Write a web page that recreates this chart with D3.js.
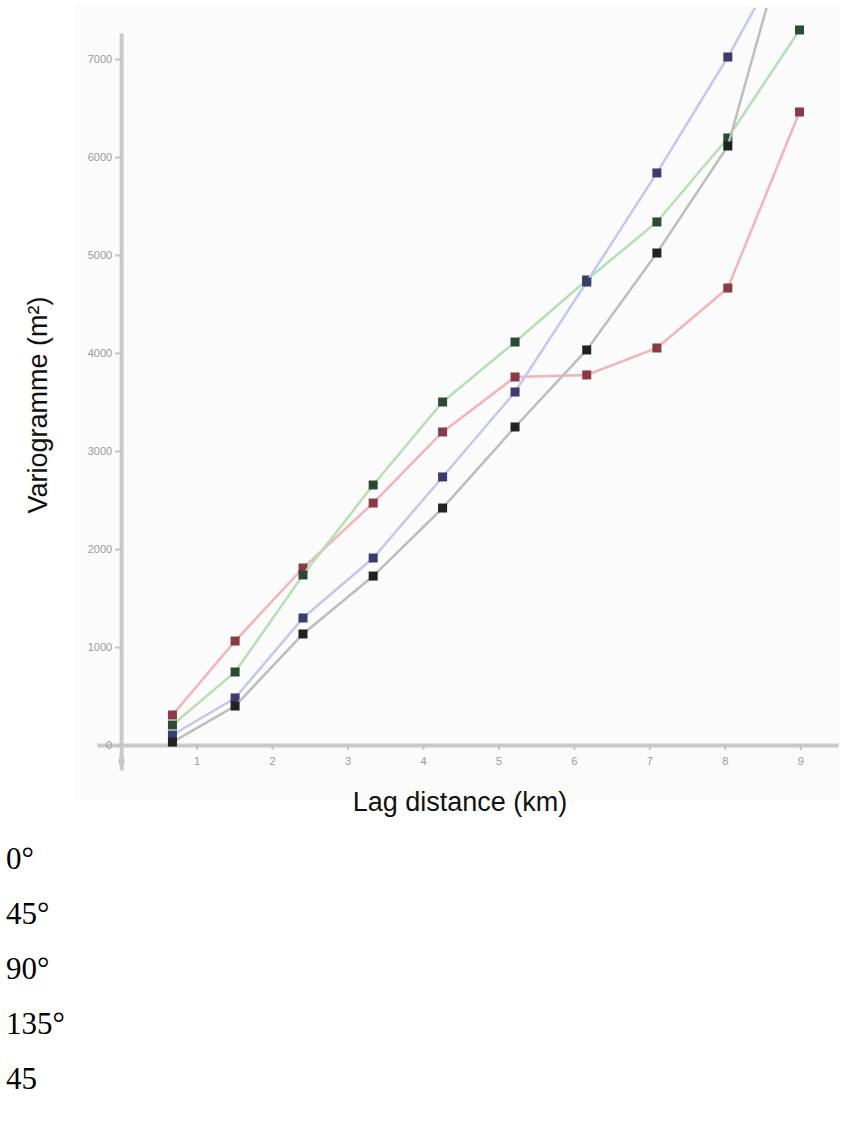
<!DOCTYPE html>
<html>
<head>
<meta charset="utf-8">
<script src="https://cdn.jsdelivr.net/npm/d3@7"></script>
<style>
	body { margin: 0; background: #ffffff; }
	#variogram text { font-family: "Liberation Sans", Arial, sans-serif; }
</style>
</head>
<body>
<div id="variogram"></div>
<script>
// data
var lags = [0.68, 1.51, 2.41, 3.34, 4.26, 5.22, 6.17, 7.10, 8.04, 8.99];
var gamma0   = [306, 1061, 1806, 2469, 3194, 3755, 3776, 4051, 4663, 6459];
var gamma45  = [204, 745, 1735, 2653, 3500, 4112, 4745, 5337, 6194, 7296];
var gamma90  = [102, 480, 1296, 1908, 2735, 3602, 4724, 5837, 7020, 8347];
var gamma135 = [30, 398, 1133, 1724, 2418, 3245, 4031, 5020, 6112, 8724];
var seriesNames = ["0°", "45°", "90°", "135°"];
var xTicks = [0, 1, 2, 3, 4, 5, 6, 7, 8, 9];
var yTicks = [0, 1000, 2000, 3000, 4000, 5000, 6000, 7000];
var legendLabels = ["0°", "45°", "90°", "135°", "45"];

// colours: light line, dark marker
var lineColors   = ["#f2b4b8", "#b6dfb6", "#c6c6f2", "#bdbdbd"];
var markerColors = ["#8a3a48", "#2c4a34", "#3c3c6e", "#222222"];

document.getElementById("variogram").innerHTML = "";

var svg = d3.select("#variogram").append("svg")
		.attr("width", 853)
		.attr("height", 1126);

// faint panel behind the chart
svg.append("rect")
	.attr("x", 75).attr("y", 5)
	.attr("width", 765).attr("height", 795)
	.attr("fill", "#fbfbfb");

// scales
var x = d3.scaleLinear()
	.domain([-0.32, 9.5])
	.range([97, 838]);

var y = d3.scaleLinear()
	.domain([-255, 7265])
	.range([770, 33]);

// x axis
var xAxisCall = d3.axisBottom(x)
	.tickValues(xTicks)
	.tickSize(5)
	.tickSizeOuter(0)
	.tickFormat(d3.format("d"));
var xAxis = svg.append("g")
	.attr("class", "x-axis")
	.attr("transform", "translate(0," + y(0) + ")")
	.call(xAxisCall);

// y axis
var yAxisCall = d3.axisLeft(y)
	.tickValues(yTicks)
	.tickSize(6)
	.tickSizeOuter(0)
	.tickFormat(d3.format("d"));
var yAxis = svg.append("g")
	.attr("class", "y-axis")
	.attr("transform", "translate(" + x(0) + ",0)")
	.call(yAxisCall);

svg.selectAll(".x-axis path, .y-axis path")
	.attr("stroke", "#c9c9c9")
	.attr("stroke-width", 4);
svg.selectAll(".x-axis line, .y-axis line")
	.attr("stroke", "#c4c4c4")
	.attr("stroke-width", 2);
svg.selectAll(".x-axis text, .y-axis text")
	.attr("fill", "#9a9a9a")
	.style("font-size", "11px");
svg.selectAll(".x-axis text").attr("y", 12);

// axis labels
svg.append("text")
	.attr("x", 460)
	.attr("y", 811)
	.attr("font-size", "27px")
	.attr("text-anchor", "middle")
	.attr("fill", "#111")
	.text("Lag distance (km)");

svg.append("text")
	.attr("x", -405)
	.attr("y", 47)
	.attr("font-size", "27px")
	.attr("text-anchor", "middle")
	.attr("fill", "#111")
	.attr("transform", "rotate(-90)")
	.text("Variogramme (m²)");

// clip lines to the panel
svg.append("clipPath")
	.attr("id", "plot-clip")
	.append("rect")
	.attr("x", 75).attr("y", 8)
	.attr("width", 765).attr("height", 780);

var plot = svg.append("g").attr("clip-path", "url(#plot-clip)");

var allSeries = [gamma0, gamma45, gamma90, gamma135];

var line = d3.line()
	.x(function(d, i){ return x(lags[i]) })
	.y(function(d){ return y(d) });

allSeries.forEach(function(vals, s){

	plot.append("path")
		.datum(vals)
		.attr("fill", "none")
		.attr("stroke", lineColors[s])
		.attr("stroke-width", 2.5)
		.attr("d", line);

	plot.selectAll(".pt" + s)
		.data(vals)
		.enter()
		.append("rect")
		.attr("class", "pt" + s)
		.attr("x", function(d, i){ return x(lags[i]) - 4.5 })
		.attr("y", function(d){ return y(d) - 4.5 })
		.attr("width", 9)
		.attr("height", 9)
		.attr("fill", markerColors[s]);
});

// legend text below the figure
svg.selectAll(".legend-text")
	.data(legendLabels)
	.enter()
	.append("text")
	.attr("class", "legend-text")
	.attr("x", 6)
	.attr("y", function(d, i){ return 869 + i * 55 })
	.style("font-family", "'Liberation Serif', 'Times New Roman', serif")
	.style("font-size", "31px")
	.attr("fill", "#000")
	.text(function(d){ return d });
</script>
</body>
</html>
